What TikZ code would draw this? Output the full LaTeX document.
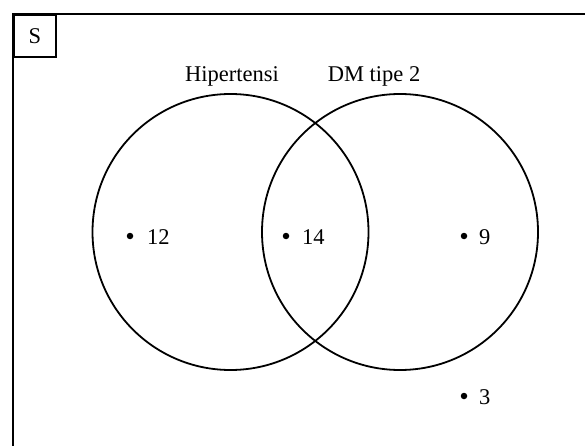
\documentclass[tikz,border=0pt]{standalone}
\usepackage{fontspec}
\setmainfont{Liberation Serif}
\begin{document}
\begin{tikzpicture}[x=1pt,y=-1pt,
  lbl/.style={font=\fontsize{22.5}{26}\selectfont, inner sep=0pt},
  setcirc/.style={draw, line width=1.8pt},
  pt/.style={circle, fill, inner sep=0pt, minimum size=6.5pt}]
\useasboundingbox (0,0) rectangle (585,446);
\draw[line width=2.4pt] (13,446) -- (13,14) -- (585,14);
\node[draw, line width=1.6pt, minimum width=42pt, minimum height=42pt, inner sep=0pt, anchor=north west, lbl] (S) at (13,14) {S};
\node[setcirc, circle, minimum size=276pt, inner sep=0pt] (H) at (230.5,232) {};
\node[setcirc, circle, minimum size=276pt, inner sep=0pt] (D) at (400,232) {};
\node[lbl] (lh) at (232,76) {Hipertensi};
\node[lbl] (ld) at (374,76) {DM tipe 2};
\node[pt] (p1) at (130,236) {};
\node[lbl, anchor=west] (t1) at (147,237) {12};
\node[pt] (p2) at (286,236) {};
\node[lbl, anchor=west] (t2) at (302,237) {14};
\node[pt] (p3) at (464,236) {};
\node[lbl, anchor=west] (t3) at (479,237) {9};
\node[pt] (p4) at (464,396) {};
\node[lbl, anchor=west] (t4) at (479,397) {3};
\end{tikzpicture}
\end{document}
